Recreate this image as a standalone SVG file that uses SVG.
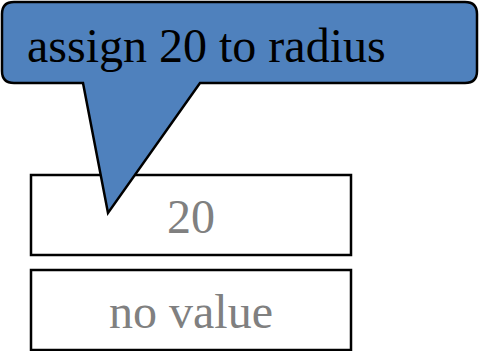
<svg xmlns="http://www.w3.org/2000/svg" width="479" height="351" viewBox="0 0 479 351">
<style>
.box{fill:#fff;stroke:#000;stroke-width:2.5}
.val{font-family:"Liberation Serif",serif;font-size:48px;fill:#808080;text-anchor:middle}
.call{fill:#4F81BD;stroke:#000;stroke-width:2.5;stroke-linejoin:miter}
.ct{font-family:"Liberation Serif",serif;font-size:48px;fill:#000}
</style>
<g id="box-value">
<rect class="box" x="31" y="175" width="320" height="80"/>
<text class="val" x="191" y="233">20</text>
</g>
<g id="box-novalue">
<rect class="box" x="31" y="270" width="320" height="80"/>
<text class="val" x="191" y="328">no value</text>
</g>
<g id="callout">
<path class="call" d="M14,2 H465 Q477,2 477,14 V71 Q477,83 465,83 H200 L108,213 L83,83 H14 Q2,83 2,71 V14 Q2,2 14,2 Z"/>
<text class="ct" x="27" y="62">assign 20 to radius</text>
</g>
</svg>
